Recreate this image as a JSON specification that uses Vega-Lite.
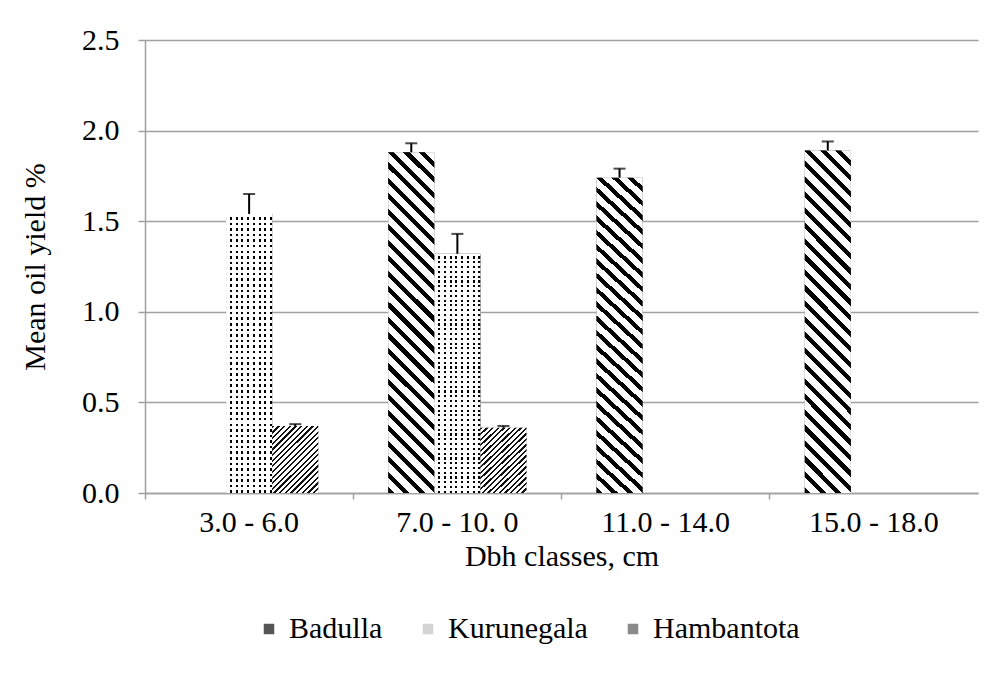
{
  "$schema": "https://vega.github.io/schema/vega-lite/v6.json",
  "width": 833,
  "height": 453,
  "autosize": {"type": "none"},
  "padding": {"left": 145, "top": 40, "right": 21, "bottom": 186},
  "background": "white",
  "config": {
    "font": "Liberation Serif",
    "view": {"stroke": null},
    "axis": {
      "labelFont": "Liberation Serif",
      "titleFont": "Liberation Serif",
      "labelFontSize": 30,
      "titleFontSize": 30,
      "titleFontWeight": "normal",
      "labelColor": "#000000",
      "titleColor": "#000000",
      "domainColor": "#a0a0a0",
      "tickColor": "#a0a0a0",
      "gridColor": "#a0a0a0",
      "domainWidth": 1.5,
      "tickWidth": 1.5,
      "gridWidth": 1.5
    },
    "legend": {
      "labelFont": "Liberation Serif",
      "labelFontSize": 30,
      "labelColor": "#000000"
    }
  },
  "data": {
    "values": [
      {"dbh": "7.0 - 10. 0", "region": "Badulla", "mean": 1.88, "hi": 1.93},
      {"dbh": "11.0 - 14.0", "region": "Badulla", "mean": 1.74, "hi": 1.79},
      {"dbh": "15.0 - 18.0", "region": "Badulla", "mean": 1.89, "hi": 1.94},
      {"dbh": "3.0 - 6.0", "region": "Kurunegala", "mean": 1.54, "hi": 1.65},
      {"dbh": "7.0 - 10. 0", "region": "Kurunegala", "mean": 1.32, "hi": 1.43},
      {"dbh": "3.0 - 6.0", "region": "Hambantota", "mean": 0.37, "hi": 0.38},
      {"dbh": "7.0 - 10. 0", "region": "Hambantota", "mean": 0.36, "hi": 0.37}
    ]
  },
  "encoding": {
    "x": {
      "field": "dbh",
      "type": "nominal",
      "sort": ["3.0 - 6.0", "7.0 - 10. 0", "11.0 - 14.0", "15.0 - 18.0"],
      "scale": {"paddingInner": 0.336, "paddingOuter": 0.168},
      "axis": {"title": "Dbh classes, cm", "labelAngle": 0, "bandPosition": -0.253, "tickSize": 6, "labelPadding": 8, "titlePadding": 4, "grid": false}
    },
    "xOffset": {
      "field": "region",
      "type": "nominal",
      "scale": {"domain": ["Badulla", "Kurunegala", "Hambantota"], "paddingInner": 0, "paddingOuter": 0}
    },
    "y": {
      "field": "mean",
      "type": "quantitative",
      "title": "Mean oil yield %",
      "scale": {"domain": [0, 2.5], "nice": false},
      "axis": {"values": [0, 0.5, 1, 1.5, 2, 2.5], "format": ".1f", "tickSize": 7, "labelPadding": 19, "titlePadding": 31, "grid": true}
    }
  },
  "layer": [
    {
      "mark": {"type": "bar", "strokeWidth": 0},
      "encoding": {
        "color": {
          "field": "region",
          "type": "nominal",
          "scale": {"domain": ["Badulla", "Kurunegala", "Hambantota"], "range": ["#555555", "#d4d4d4", "#8a8a8a"]},
          "legend": {
            "title": null,
            "orient": "none",
            "direction": "horizontal",
            "legendX": 109,
            "legendY": 574,
            "symbolType": "square",
            "symbolSize": 110,
            "symbolStrokeWidth": 0,
            "labelOffset": 5,
            "columnPadding": 30
          }
        }
      }
    },
    {
      "transform": [{"filter": "datum.region === 'Kurunegala'"}],
      "mark": {"type": "bar", "strokeWidth": 0, "fill": "#000000"}
    },
    {
      "transform": [{"filter": "datum.region === 'Kurunegala'"}],
      "mark": {"type": "bar", "strokeWidth": 0, "fill": {"gradient": "linear", "x1": 0, "y1": 0, "x2": 1, "y2": 0, "stops": [
        {"offset": 0, "color": "#fff"}, {"offset": 0.081, "color": "#fff"}, {"offset": 0.081, "color": "rgba(255,255,255,0)"}, {"offset": 0.125, "color": "rgba(255,255,255,0)"},
        {"offset": 0.125, "color": "#fff"}, {"offset": 0.206, "color": "#fff"}, {"offset": 0.206, "color": "rgba(255,255,255,0)"}, {"offset": 0.25, "color": "rgba(255,255,255,0)"},
        {"offset": 0.25, "color": "#fff"}, {"offset": 0.331, "color": "#fff"}, {"offset": 0.331, "color": "rgba(255,255,255,0)"}, {"offset": 0.375, "color": "rgba(255,255,255,0)"},
        {"offset": 0.375, "color": "#fff"}, {"offset": 0.456, "color": "#fff"}, {"offset": 0.456, "color": "rgba(255,255,255,0)"}, {"offset": 0.5, "color": "rgba(255,255,255,0)"},
        {"offset": 0.5, "color": "#fff"}, {"offset": 0.581, "color": "#fff"}, {"offset": 0.581, "color": "rgba(255,255,255,0)"}, {"offset": 0.625, "color": "rgba(255,255,255,0)"},
        {"offset": 0.625, "color": "#fff"}, {"offset": 0.706, "color": "#fff"}, {"offset": 0.706, "color": "rgba(255,255,255,0)"}, {"offset": 0.75, "color": "rgba(255,255,255,0)"},
        {"offset": 0.75, "color": "#fff"}, {"offset": 0.831, "color": "#fff"}, {"offset": 0.831, "color": "rgba(255,255,255,0)"}, {"offset": 0.875, "color": "rgba(255,255,255,0)"},
        {"offset": 0.875, "color": "#fff"}, {"offset": 0.956, "color": "#fff"}, {"offset": 0.956, "color": "rgba(255,255,255,0)"}, {"offset": 1, "color": "rgba(255,255,255,0)"}
      ]}}
    },
    {
      "transform": [{"filter": "datum.region === 'Kurunegala'"}],
      "mark": {"type": "bar", "strokeWidth": 0, "fill": {"gradient": "linear", "x1": 0, "y1": 0, "x2": 0, "y2": 1, "stops": [
        {"offset": 0, "color": "#fff"}, {"offset": 0.011, "color": "#fff"}, {"offset": 0.011, "color": "rgba(255,255,255,0)"}, {"offset": 0.02, "color": "rgba(255,255,255,0)"},
        {"offset": 0.02, "color": "#fff"}, {"offset": 0.031, "color": "#fff"}, {"offset": 0.031, "color": "rgba(255,255,255,0)"}, {"offset": 0.04, "color": "rgba(255,255,255,0)"},
        {"offset": 0.04, "color": "#fff"}, {"offset": 0.051, "color": "#fff"}, {"offset": 0.051, "color": "rgba(255,255,255,0)"}, {"offset": 0.06, "color": "rgba(255,255,255,0)"},
        {"offset": 0.06, "color": "#fff"}, {"offset": 0.071, "color": "#fff"}, {"offset": 0.071, "color": "rgba(255,255,255,0)"}, {"offset": 0.08, "color": "rgba(255,255,255,0)"},
        {"offset": 0.08, "color": "#fff"}, {"offset": 0.091, "color": "#fff"}, {"offset": 0.091, "color": "rgba(255,255,255,0)"}, {"offset": 0.1, "color": "rgba(255,255,255,0)"},
        {"offset": 0.1, "color": "#fff"}, {"offset": 0.111, "color": "#fff"}, {"offset": 0.111, "color": "rgba(255,255,255,0)"}, {"offset": 0.12, "color": "rgba(255,255,255,0)"},
        {"offset": 0.12, "color": "#fff"}, {"offset": 0.131, "color": "#fff"}, {"offset": 0.131, "color": "rgba(255,255,255,0)"}, {"offset": 0.14, "color": "rgba(255,255,255,0)"},
        {"offset": 0.14, "color": "#fff"}, {"offset": 0.151, "color": "#fff"}, {"offset": 0.151, "color": "rgba(255,255,255,0)"}, {"offset": 0.16, "color": "rgba(255,255,255,0)"},
        {"offset": 0.16, "color": "#fff"}, {"offset": 0.171, "color": "#fff"}, {"offset": 0.171, "color": "rgba(255,255,255,0)"}, {"offset": 0.18, "color": "rgba(255,255,255,0)"},
        {"offset": 0.18, "color": "#fff"}, {"offset": 0.191, "color": "#fff"}, {"offset": 0.191, "color": "rgba(255,255,255,0)"}, {"offset": 0.2, "color": "rgba(255,255,255,0)"},
        {"offset": 0.2, "color": "#fff"}, {"offset": 0.211, "color": "#fff"}, {"offset": 0.211, "color": "rgba(255,255,255,0)"}, {"offset": 0.22, "color": "rgba(255,255,255,0)"},
        {"offset": 0.22, "color": "#fff"}, {"offset": 0.231, "color": "#fff"}, {"offset": 0.231, "color": "rgba(255,255,255,0)"}, {"offset": 0.24, "color": "rgba(255,255,255,0)"},
        {"offset": 0.24, "color": "#fff"}, {"offset": 0.251, "color": "#fff"}, {"offset": 0.251, "color": "rgba(255,255,255,0)"}, {"offset": 0.26, "color": "rgba(255,255,255,0)"},
        {"offset": 0.26, "color": "#fff"}, {"offset": 0.271, "color": "#fff"}, {"offset": 0.271, "color": "rgba(255,255,255,0)"}, {"offset": 0.28, "color": "rgba(255,255,255,0)"},
        {"offset": 0.28, "color": "#fff"}, {"offset": 0.291, "color": "#fff"}, {"offset": 0.291, "color": "rgba(255,255,255,0)"}, {"offset": 0.3, "color": "rgba(255,255,255,0)"},
        {"offset": 0.3, "color": "#fff"}, {"offset": 0.311, "color": "#fff"}, {"offset": 0.311, "color": "rgba(255,255,255,0)"}, {"offset": 0.32, "color": "rgba(255,255,255,0)"},
        {"offset": 0.32, "color": "#fff"}, {"offset": 0.331, "color": "#fff"}, {"offset": 0.331, "color": "rgba(255,255,255,0)"}, {"offset": 0.34, "color": "rgba(255,255,255,0)"},
        {"offset": 0.34, "color": "#fff"}, {"offset": 0.351, "color": "#fff"}, {"offset": 0.351, "color": "rgba(255,255,255,0)"}, {"offset": 0.36, "color": "rgba(255,255,255,0)"},
        {"offset": 0.36, "color": "#fff"}, {"offset": 0.371, "color": "#fff"}, {"offset": 0.371, "color": "rgba(255,255,255,0)"}, {"offset": 0.38, "color": "rgba(255,255,255,0)"},
        {"offset": 0.38, "color": "#fff"}, {"offset": 0.391, "color": "#fff"}, {"offset": 0.391, "color": "rgba(255,255,255,0)"}, {"offset": 0.4, "color": "rgba(255,255,255,0)"},
        {"offset": 0.4, "color": "#fff"}, {"offset": 0.411, "color": "#fff"}, {"offset": 0.411, "color": "rgba(255,255,255,0)"}, {"offset": 0.42, "color": "rgba(255,255,255,0)"},
        {"offset": 0.42, "color": "#fff"}, {"offset": 0.431, "color": "#fff"}, {"offset": 0.431, "color": "rgba(255,255,255,0)"}, {"offset": 0.44, "color": "rgba(255,255,255,0)"},
        {"offset": 0.44, "color": "#fff"}, {"offset": 0.451, "color": "#fff"}, {"offset": 0.451, "color": "rgba(255,255,255,0)"}, {"offset": 0.46, "color": "rgba(255,255,255,0)"},
        {"offset": 0.46, "color": "#fff"}, {"offset": 0.471, "color": "#fff"}, {"offset": 0.471, "color": "rgba(255,255,255,0)"}, {"offset": 0.48, "color": "rgba(255,255,255,0)"},
        {"offset": 0.48, "color": "#fff"}, {"offset": 0.491, "color": "#fff"}, {"offset": 0.491, "color": "rgba(255,255,255,0)"}, {"offset": 0.5, "color": "rgba(255,255,255,0)"},
        {"offset": 0.5, "color": "#fff"}, {"offset": 0.511, "color": "#fff"}, {"offset": 0.511, "color": "rgba(255,255,255,0)"}, {"offset": 0.52, "color": "rgba(255,255,255,0)"},
        {"offset": 0.52, "color": "#fff"}, {"offset": 0.531, "color": "#fff"}, {"offset": 0.531, "color": "rgba(255,255,255,0)"}, {"offset": 0.54, "color": "rgba(255,255,255,0)"},
        {"offset": 0.54, "color": "#fff"}, {"offset": 0.551, "color": "#fff"}, {"offset": 0.551, "color": "rgba(255,255,255,0)"}, {"offset": 0.56, "color": "rgba(255,255,255,0)"},
        {"offset": 0.56, "color": "#fff"}, {"offset": 0.571, "color": "#fff"}, {"offset": 0.571, "color": "rgba(255,255,255,0)"}, {"offset": 0.58, "color": "rgba(255,255,255,0)"},
        {"offset": 0.58, "color": "#fff"}, {"offset": 0.591, "color": "#fff"}, {"offset": 0.591, "color": "rgba(255,255,255,0)"}, {"offset": 0.6, "color": "rgba(255,255,255,0)"},
        {"offset": 0.6, "color": "#fff"}, {"offset": 0.611, "color": "#fff"}, {"offset": 0.611, "color": "rgba(255,255,255,0)"}, {"offset": 0.62, "color": "rgba(255,255,255,0)"},
        {"offset": 0.62, "color": "#fff"}, {"offset": 0.631, "color": "#fff"}, {"offset": 0.631, "color": "rgba(255,255,255,0)"}, {"offset": 0.64, "color": "rgba(255,255,255,0)"},
        {"offset": 0.64, "color": "#fff"}, {"offset": 0.651, "color": "#fff"}, {"offset": 0.651, "color": "rgba(255,255,255,0)"}, {"offset": 0.66, "color": "rgba(255,255,255,0)"},
        {"offset": 0.66, "color": "#fff"}, {"offset": 0.671, "color": "#fff"}, {"offset": 0.671, "color": "rgba(255,255,255,0)"}, {"offset": 0.68, "color": "rgba(255,255,255,0)"},
        {"offset": 0.68, "color": "#fff"}, {"offset": 0.691, "color": "#fff"}, {"offset": 0.691, "color": "rgba(255,255,255,0)"}, {"offset": 0.7, "color": "rgba(255,255,255,0)"},
        {"offset": 0.7, "color": "#fff"}, {"offset": 0.711, "color": "#fff"}, {"offset": 0.711, "color": "rgba(255,255,255,0)"}, {"offset": 0.72, "color": "rgba(255,255,255,0)"},
        {"offset": 0.72, "color": "#fff"}, {"offset": 0.731, "color": "#fff"}, {"offset": 0.731, "color": "rgba(255,255,255,0)"}, {"offset": 0.74, "color": "rgba(255,255,255,0)"},
        {"offset": 0.74, "color": "#fff"}, {"offset": 0.751, "color": "#fff"}, {"offset": 0.751, "color": "rgba(255,255,255,0)"}, {"offset": 0.76, "color": "rgba(255,255,255,0)"},
        {"offset": 0.76, "color": "#fff"}, {"offset": 0.771, "color": "#fff"}, {"offset": 0.771, "color": "rgba(255,255,255,0)"}, {"offset": 0.78, "color": "rgba(255,255,255,0)"},
        {"offset": 0.78, "color": "#fff"}, {"offset": 0.791, "color": "#fff"}, {"offset": 0.791, "color": "rgba(255,255,255,0)"}, {"offset": 0.8, "color": "rgba(255,255,255,0)"},
        {"offset": 0.8, "color": "#fff"}, {"offset": 0.811, "color": "#fff"}, {"offset": 0.811, "color": "rgba(255,255,255,0)"}, {"offset": 0.82, "color": "rgba(255,255,255,0)"},
        {"offset": 0.82, "color": "#fff"}, {"offset": 0.831, "color": "#fff"}, {"offset": 0.831, "color": "rgba(255,255,255,0)"}, {"offset": 0.84, "color": "rgba(255,255,255,0)"},
        {"offset": 0.84, "color": "#fff"}, {"offset": 0.851, "color": "#fff"}, {"offset": 0.851, "color": "rgba(255,255,255,0)"}, {"offset": 0.86, "color": "rgba(255,255,255,0)"},
        {"offset": 0.86, "color": "#fff"}, {"offset": 0.871, "color": "#fff"}, {"offset": 0.871, "color": "rgba(255,255,255,0)"}, {"offset": 0.88, "color": "rgba(255,255,255,0)"},
        {"offset": 0.88, "color": "#fff"}, {"offset": 0.891, "color": "#fff"}, {"offset": 0.891, "color": "rgba(255,255,255,0)"}, {"offset": 0.9, "color": "rgba(255,255,255,0)"},
        {"offset": 0.9, "color": "#fff"}, {"offset": 0.911, "color": "#fff"}, {"offset": 0.911, "color": "rgba(255,255,255,0)"}, {"offset": 0.92, "color": "rgba(255,255,255,0)"},
        {"offset": 0.92, "color": "#fff"}, {"offset": 0.931, "color": "#fff"}, {"offset": 0.931, "color": "rgba(255,255,255,0)"}, {"offset": 0.94, "color": "rgba(255,255,255,0)"},
        {"offset": 0.94, "color": "#fff"}, {"offset": 0.951, "color": "#fff"}, {"offset": 0.951, "color": "rgba(255,255,255,0)"}, {"offset": 0.96, "color": "rgba(255,255,255,0)"},
        {"offset": 0.96, "color": "#fff"}, {"offset": 0.971, "color": "#fff"}, {"offset": 0.971, "color": "rgba(255,255,255,0)"}, {"offset": 0.98, "color": "rgba(255,255,255,0)"},
        {"offset": 0.98, "color": "#fff"}, {"offset": 0.991, "color": "#fff"}, {"offset": 0.991, "color": "rgba(255,255,255,0)"}, {"offset": 1, "color": "rgba(255,255,255,0)"}
      ]}}
    },
    {
      "transform": [{"filter": "datum.region === 'Badulla'"}],
      "mark": {"type": "bar", "strokeWidth": 0, "fill": {"gradient": "linear", "x1": 0, "y1": 1, "x2": 0.1504, "y2": -0.1146, "stops": [
                {"offset": 0, "color": "#000"}, {"offset": 0.016, "color": "#000"}, {"offset": 0.016, "color": "#fff"}, {"offset": 0.04, "color": "#fff"},
                {"offset": 0.04, "color": "#000"}, {"offset": 0.056, "color": "#000"}, {"offset": 0.056, "color": "#fff"}, {"offset": 0.08, "color": "#fff"},
                {"offset": 0.08, "color": "#000"}, {"offset": 0.096, "color": "#000"}, {"offset": 0.096, "color": "#fff"}, {"offset": 0.12, "color": "#fff"},
                {"offset": 0.12, "color": "#000"}, {"offset": 0.136, "color": "#000"}, {"offset": 0.136, "color": "#fff"}, {"offset": 0.16, "color": "#fff"},
                {"offset": 0.16, "color": "#000"}, {"offset": 0.176, "color": "#000"}, {"offset": 0.176, "color": "#fff"}, {"offset": 0.2, "color": "#fff"},
                {"offset": 0.2, "color": "#000"}, {"offset": 0.216, "color": "#000"}, {"offset": 0.216, "color": "#fff"}, {"offset": 0.24, "color": "#fff"},
                {"offset": 0.24, "color": "#000"}, {"offset": 0.256, "color": "#000"}, {"offset": 0.256, "color": "#fff"}, {"offset": 0.28, "color": "#fff"},
                {"offset": 0.28, "color": "#000"}, {"offset": 0.296, "color": "#000"}, {"offset": 0.296, "color": "#fff"}, {"offset": 0.32, "color": "#fff"},
                {"offset": 0.32, "color": "#000"}, {"offset": 0.336, "color": "#000"}, {"offset": 0.336, "color": "#fff"}, {"offset": 0.36, "color": "#fff"},
                {"offset": 0.36, "color": "#000"}, {"offset": 0.376, "color": "#000"}, {"offset": 0.376, "color": "#fff"}, {"offset": 0.4, "color": "#fff"},
                {"offset": 0.4, "color": "#000"}, {"offset": 0.416, "color": "#000"}, {"offset": 0.416, "color": "#fff"}, {"offset": 0.44, "color": "#fff"},
                {"offset": 0.44, "color": "#000"}, {"offset": 0.456, "color": "#000"}, {"offset": 0.456, "color": "#fff"}, {"offset": 0.48, "color": "#fff"},
                {"offset": 0.48, "color": "#000"}, {"offset": 0.496, "color": "#000"}, {"offset": 0.496, "color": "#fff"}, {"offset": 0.52, "color": "#fff"},
                {"offset": 0.52, "color": "#000"}, {"offset": 0.536, "color": "#000"}, {"offset": 0.536, "color": "#fff"}, {"offset": 0.56, "color": "#fff"},
                {"offset": 0.56, "color": "#000"}, {"offset": 0.576, "color": "#000"}, {"offset": 0.576, "color": "#fff"}, {"offset": 0.6, "color": "#fff"},
                {"offset": 0.6, "color": "#000"}, {"offset": 0.616, "color": "#000"}, {"offset": 0.616, "color": "#fff"}, {"offset": 0.64, "color": "#fff"},
                {"offset": 0.64, "color": "#000"}, {"offset": 0.656, "color": "#000"}, {"offset": 0.656, "color": "#fff"}, {"offset": 0.68, "color": "#fff"},
                {"offset": 0.68, "color": "#000"}, {"offset": 0.696, "color": "#000"}, {"offset": 0.696, "color": "#fff"}, {"offset": 0.72, "color": "#fff"},
                {"offset": 0.72, "color": "#000"}, {"offset": 0.736, "color": "#000"}, {"offset": 0.736, "color": "#fff"}, {"offset": 0.76, "color": "#fff"},
                {"offset": 0.76, "color": "#000"}, {"offset": 0.776, "color": "#000"}, {"offset": 0.776, "color": "#fff"}, {"offset": 0.8, "color": "#fff"},
                {"offset": 0.8, "color": "#000"}, {"offset": 0.816, "color": "#000"}, {"offset": 0.816, "color": "#fff"}, {"offset": 0.84, "color": "#fff"},
                {"offset": 0.84, "color": "#000"}, {"offset": 0.856, "color": "#000"}, {"offset": 0.856, "color": "#fff"}, {"offset": 0.88, "color": "#fff"},
                {"offset": 0.88, "color": "#000"}, {"offset": 0.896, "color": "#000"}, {"offset": 0.896, "color": "#fff"}, {"offset": 0.92, "color": "#fff"},
                {"offset": 0.92, "color": "#000"}, {"offset": 0.936, "color": "#000"}, {"offset": 0.936, "color": "#fff"}, {"offset": 0.96, "color": "#fff"},
                {"offset": 0.96, "color": "#000"}, {"offset": 0.976, "color": "#000"}, {"offset": 0.976, "color": "#fff"}, {"offset": 1, "color": "#fff"}
              ]}}
    },
    {
      "transform": [{"filter": "datum.region === 'Hambantota'"}],
      "mark": {"type": "bar", "strokeWidth": 0, "fill": {"gradient": "linear", "x1": 0, "y1": 0, "x2": 0.787, "y2": 1.1463, "stops": [
                {"offset": 0, "color": "#111"}, {"offset": 0.02, "color": "#111"}, {"offset": 0.02, "color": "#fff"}, {"offset": 0.05, "color": "#fff"},
                {"offset": 0.05, "color": "#111"}, {"offset": 0.07, "color": "#111"}, {"offset": 0.07, "color": "#fff"}, {"offset": 0.1, "color": "#fff"},
                {"offset": 0.1, "color": "#111"}, {"offset": 0.12, "color": "#111"}, {"offset": 0.12, "color": "#fff"}, {"offset": 0.15, "color": "#fff"},
                {"offset": 0.15, "color": "#111"}, {"offset": 0.17, "color": "#111"}, {"offset": 0.17, "color": "#fff"}, {"offset": 0.2, "color": "#fff"},
                {"offset": 0.2, "color": "#111"}, {"offset": 0.22, "color": "#111"}, {"offset": 0.22, "color": "#fff"}, {"offset": 0.25, "color": "#fff"},
                {"offset": 0.25, "color": "#111"}, {"offset": 0.27, "color": "#111"}, {"offset": 0.27, "color": "#fff"}, {"offset": 0.3, "color": "#fff"},
                {"offset": 0.3, "color": "#111"}, {"offset": 0.32, "color": "#111"}, {"offset": 0.32, "color": "#fff"}, {"offset": 0.35, "color": "#fff"},
                {"offset": 0.35, "color": "#111"}, {"offset": 0.37, "color": "#111"}, {"offset": 0.37, "color": "#fff"}, {"offset": 0.4, "color": "#fff"},
                {"offset": 0.4, "color": "#111"}, {"offset": 0.42, "color": "#111"}, {"offset": 0.42, "color": "#fff"}, {"offset": 0.45, "color": "#fff"},
                {"offset": 0.45, "color": "#111"}, {"offset": 0.47, "color": "#111"}, {"offset": 0.47, "color": "#fff"}, {"offset": 0.5, "color": "#fff"},
                {"offset": 0.5, "color": "#111"}, {"offset": 0.52, "color": "#111"}, {"offset": 0.52, "color": "#fff"}, {"offset": 0.55, "color": "#fff"},
                {"offset": 0.55, "color": "#111"}, {"offset": 0.57, "color": "#111"}, {"offset": 0.57, "color": "#fff"}, {"offset": 0.6, "color": "#fff"},
                {"offset": 0.6, "color": "#111"}, {"offset": 0.62, "color": "#111"}, {"offset": 0.62, "color": "#fff"}, {"offset": 0.65, "color": "#fff"},
                {"offset": 0.65, "color": "#111"}, {"offset": 0.67, "color": "#111"}, {"offset": 0.67, "color": "#fff"}, {"offset": 0.7, "color": "#fff"},
                {"offset": 0.7, "color": "#111"}, {"offset": 0.72, "color": "#111"}, {"offset": 0.72, "color": "#fff"}, {"offset": 0.75, "color": "#fff"},
                {"offset": 0.75, "color": "#111"}, {"offset": 0.77, "color": "#111"}, {"offset": 0.77, "color": "#fff"}, {"offset": 0.8, "color": "#fff"},
                {"offset": 0.8, "color": "#111"}, {"offset": 0.82, "color": "#111"}, {"offset": 0.82, "color": "#fff"}, {"offset": 0.85, "color": "#fff"},
                {"offset": 0.85, "color": "#111"}, {"offset": 0.87, "color": "#111"}, {"offset": 0.87, "color": "#fff"}, {"offset": 0.9, "color": "#fff"},
                {"offset": 0.9, "color": "#111"}, {"offset": 0.92, "color": "#111"}, {"offset": 0.92, "color": "#fff"}, {"offset": 0.95, "color": "#fff"},
                {"offset": 0.95, "color": "#111"}, {"offset": 0.97, "color": "#111"}, {"offset": 0.97, "color": "#fff"}, {"offset": 1, "color": "#fff"}
              ]}}
    },
    {
      "mark": {"type": "rule", "color": "#000000", "strokeWidth": 2},
      "encoding": {
        "y2": {"field": "hi"}
      }
    },
    {
      "mark": {"type": "tick", "color": "#000000", "thickness": 2, "size": 12, "orient": "horizontal"},
      "encoding": {
        "y": {"field": "hi", "type": "quantitative", "title": "Mean oil yield %"}
      }
    }
  ]
}
